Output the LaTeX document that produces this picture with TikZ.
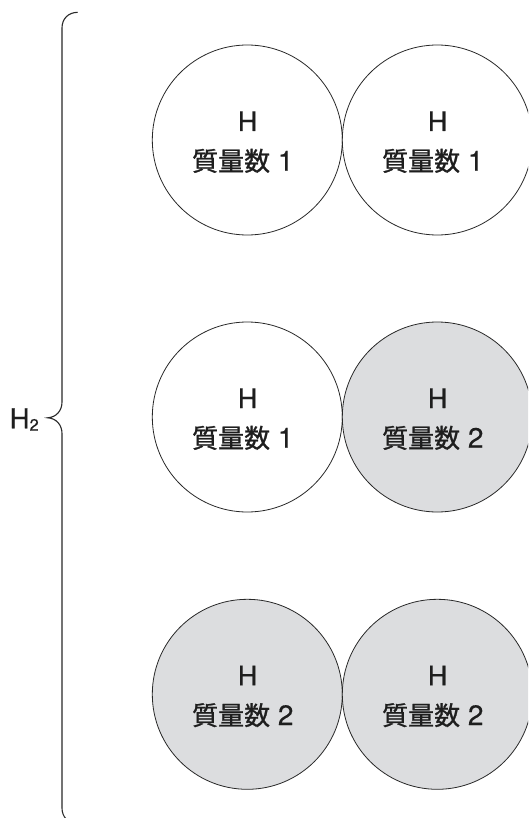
\documentclass[tikz,border=0pt]{standalone}
\usepackage{fontspec}
\usetikzlibrary{calc}
\setmainfont{TeX Gyre Heros}[FakeBold=0.4]
\newfontfamily\cjk{Noto Sans CJK JP}[FakeBold=1.0]
\definecolor{inkline}{RGB}{40,40,40}
\definecolor{inktext}{RGB}{30,30,30}
\definecolor{heavyfill}{RGB}{220,221,223}
\begin{document}
\begin{tikzpicture}[x=1pt,y=-1pt,
  atom/.style={circle,draw=inkline,line width=0.8pt,minimum size=190pt,inner sep=0pt},
  light/.style={atom,fill=white},
  heavy/.style={atom,fill=heavyfill},
  symb/.style={anchor=base,inner sep=0pt,text=inktext,font=\fontsize{27}{30}\selectfont},
  mass/.style={anchor=base,inner sep=0pt,text=inktext,font=\fontsize{28}{32}\selectfont},
  bracepath/.style={draw=inkline,line width=1.1pt}]
\useasboundingbox (0,0) rectangle (528,818);
\clip (0,0) rectangle (528,818);

% molecules: three pairs of hydrogen atoms
\node[light] (a1) at (247.3,140) {};
\node[light] (a2) at (437.3,140) {};
\node[light] (a3) at (247.3,417) {};
\node[heavy] (a4) at (437.3,417) {};
\node[heavy] (a5) at (247.3,694.3) {};
\node[heavy] (a6) at (437.3,694.3) {};

% atom labels
\foreach \a/\m in {a1/1,a2/1,a3/1,a4/2,a5/2,a6/2}{
  \node[symb] (\a h) at ($(\a.center)+(0.3,-9)$) {H};
  \node[mass] (\a m) at ($(\a.center)+(-4.5,30.7)$) {{\cjk\fontsize{26}{30}\selectfont 質量数} \m};
}

% brace grouping the three molecules
\draw[bracepath] (77.7,12.3) .. controls (68,12.5) and (62,19) .. (62,28)
  -- (62,402) .. controls (62,411) and (56,417.3) .. (47.7,417.8)
  .. controls (56,418.3) and (62,424.6) .. (62,433.6)
  -- (62,808) .. controls (62,817) and (68,823.3) .. (77.7,823.5);

% group label
\node[anchor=base west,inner sep=0pt,text=inktext,font=\fontsize{27.5}{30}\selectfont] (h2) at (9.5,428.3)
  {H\raisebox{-2.4pt}{\fontsize{16.5}{18}\selectfont 2}};
\end{tikzpicture}
\end{document}
